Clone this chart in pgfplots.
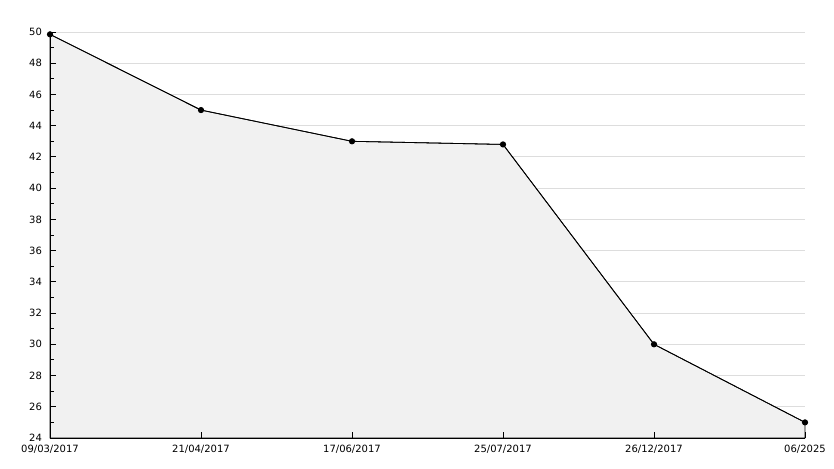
\documentclass[border=0pt]{standalone}
\usepackage{pgfplots}
\pgfplotsset{compat=1.18}
\usepackage{fontspec}
\setmainfont{DejaVu Sans}
\definecolor{fillgray}{HTML}{F1F1F1}
\definecolor{gridgray}{HTML}{DDDDDD}
\pgfdeclarelayer{fillayer}
\pgfplotsset{
  layers/mylayers/.define layer set={
    axis background,axis grid,fillayer,axis ticks,axis lines,axis tick labels,main,axis descriptions,axis foreground
  }{/pgfplots/layers/standard},
}
\begin{document}
\begin{tikzpicture}[font=\fontsize{7.5}{9}\selectfont]
\begin{axis}[
  set layers=mylayers,
  at={(37.5pt,22.5pt)}, anchor=south west,
  scale only axis,
  width=566.25pt, height=304.5pt,
  xmin=0, xmax=5, ymin=24, ymax=50,
  axis x line=bottom, axis y line=left,
  axis line style={-, black, line width=0.75pt},
  xtick={0,1,2,3,4,5},
  xticklabels={09/03/2017,21/04/2017,17/06/2017,25/07/2017,26/12/2017,06/2025},
  ytick={24,26,...,50},
  minor y tick num=1,
  tick align=inside,
  major tick length=4.5pt, minor tick length=3pt,
  tick style={black, line width=0.75pt},
  ymajorgrids,
  major grid style={gridgray, line width=0.75pt},
  yticklabel style={xshift=-2.5pt},
  xticklabel style={yshift=-1.5pt},
  /pgf/number format/assume math mode=true,
  clip=false,
]
\addplot[on layer=fillayer, draw=black, line width=0.6pt, fill=fillgray, mark=none] coordinates {
  (0,49.85) (1,45) (2,43) (3,42.8) (4,30) (5,25)
} \closedcycle;
\addplot[draw=black, line width=0.6pt, mark=*, mark size=2pt, mark options={fill=black}] coordinates {
  (0,49.85) (1,45) (2,43) (3,42.8) (4,30) (5,25)
};
\end{axis}
\pgfresetboundingbox
\path[use as bounding box] (0,0) rectangle (625.5pt,351pt);
\end{tikzpicture}
\end{document}
